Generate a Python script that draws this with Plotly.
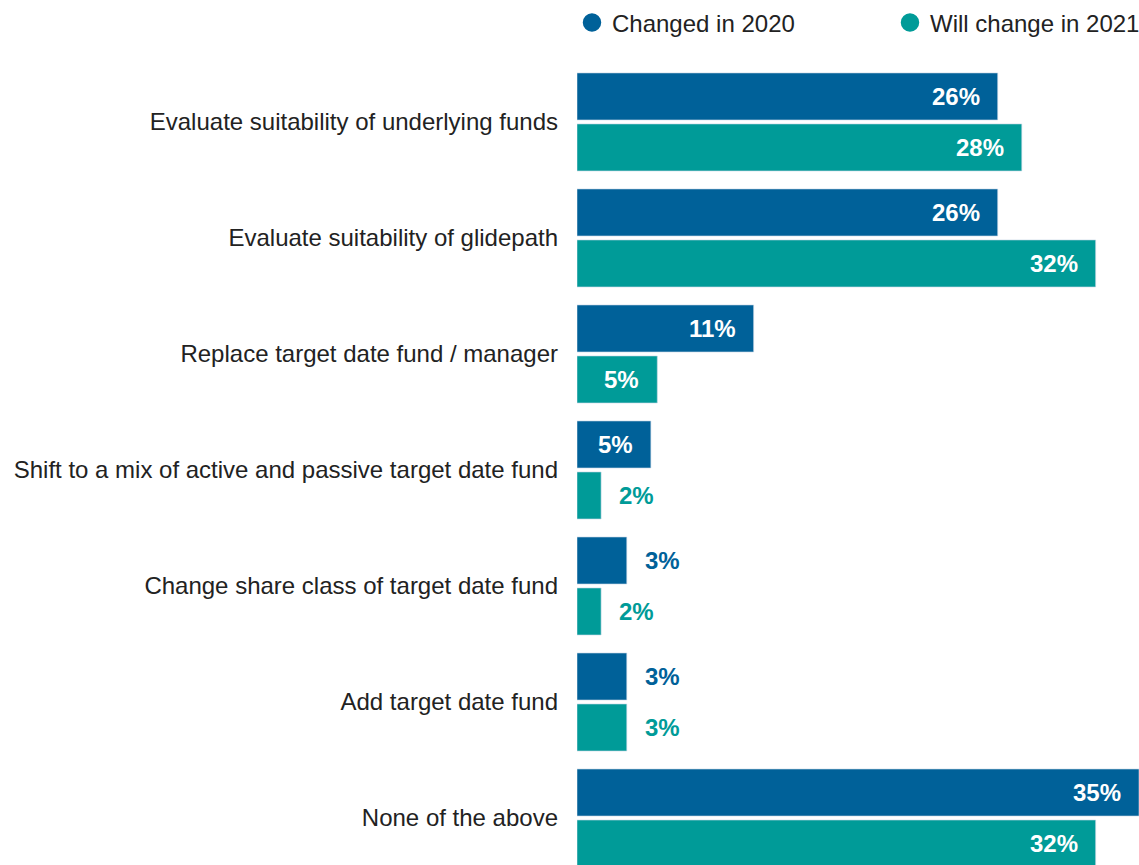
import plotly.graph_objects as go

categories = [
    "Evaluate suitability of underlying funds",
    "Evaluate suitability of glidepath",
    "Replace target date fund / manager",
    "Shift to a mix of active and passive target date fund",
    "Change share class of target date fund",
    "Add target date fund",
    "None of the above",
]
series_names = ["Changed in 2020", "Will change in 2021"]
changed_2020 = [26.2, 26.2, 11.0, 4.6, 3.1, 3.1, 35.0]
change_2021 = [27.7, 32.3, 5.0, 1.5, 1.5, 3.1, 32.3]
labels_2020 = ["26%", "26%", "11%", "5%", "3%", "3%", "35%"]
labels_2021 = ["28%", "32%", "5%", "2%", "2%", "3%", "32%"]

BLUE = "#006199"
TEAL = "#009B98"
FONT = "Liberation Sans, Arial, sans-serif"

fig = go.Figure()
series = [
    (series_names[0], changed_2020, labels_2020, BLUE, 25.5),
    (series_names[1], change_2021, labels_2021, TEAL, -25.5),
]
for name, vals, labs, col, shift in series:
    fig.add_trace(go.Bar(
        y=categories, x=vals, orientation="h", name=name,
        marker=dict(color=col, line=dict(color="rgba(200,215,230,0.6)", width=1)),
        showlegend=False, hoverinfo="skip",
    ))
    fig.add_trace(go.Scatter(
        x=[None], y=[None], mode="markers", name=name,
        marker=dict(color=col, size=21, symbol="circle",
                    line=dict(color=col, width=2.5)),
    ))
    for cat, v, lab in zip(categories, vals, labs):
        inside = v >= 4
        fig.add_annotation(
            x=v, y=cat, text=lab, showarrow=False,
            xanchor="right" if inside else "left",
            xshift=-16 if inside else 16, yshift=shift,
            font=dict(family=FONT, size=24, color="white" if inside else col, weight="bold"),
        )

fig.update_layout(
    width=1139, height=865,
    barmode="group", bargap=0.121, bargroupgap=0.078,
    margin=dict(l=577, r=0, t=60, b=0, autoexpand=False),
    plot_bgcolor="white", paper_bgcolor="white",
    font=dict(family=FONT, size=24, color="#222222"),
    xaxis=dict(range=[0, 35], visible=False, fixedrange=True),
    yaxis=dict(type="category", range=[6.405, -0.534], showgrid=False,
               zeroline=False, showline=False, ticks="", ticklabelstandoff=18,
               tickfont=dict(family=FONT, size=24, color="#222222")),
    legend=dict(orientation="h", xref="paper", yref="paper",
                x=-0.0089, y=1.046, xanchor="left", yanchor="middle",
                entrywidth=273, entrywidthmode="pixels",
                font=dict(family=FONT, size=24, color="#222222"),
                itemsizing="trace"),
)

fig.write_html("out.html", config={"displayModeBar": False},
               post_script="document.body.style.margin='0px';")
